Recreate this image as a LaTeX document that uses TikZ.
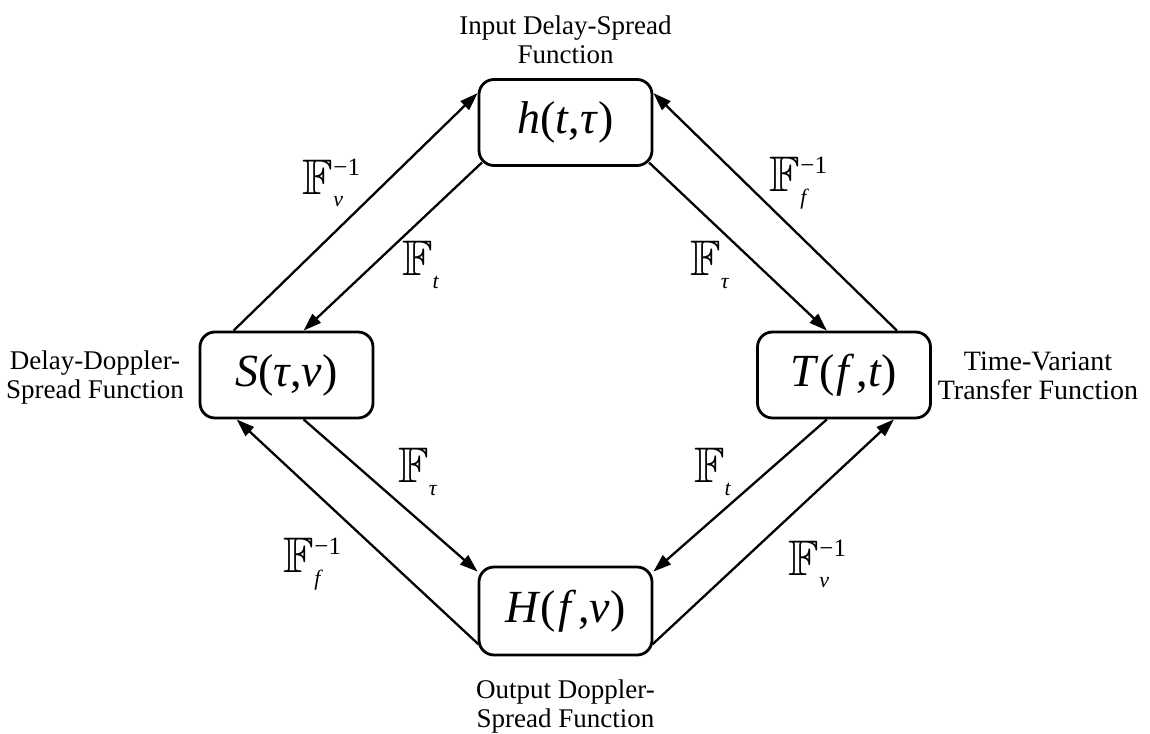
\documentclass[tikz,border=0pt]{standalone}
\usepackage{amssymb}
\usepackage{fontspec}
\setmainfont{Liberation Serif}
\usetikzlibrary{arrows.meta,calc}
\DeclareMathSizes{25}{25}{12}{9}
\newcommand{\Fop}[2]{{\fontsize{25}{27}\selectfont$\mathbb{F}_{\mbox{\fontsize{11}{11}\selectfont\itshape #1}}^{\mbox{\fontsize{12.5}{12.5}\selectfont #2}}$}}
\tikzset{
  fbox/.style={draw, line width=1.4pt, rounded corners=7.5pt, minimum width=86.5pt, minimum height=43pt, inner sep=0pt, font=\fontsize{23}{26}\selectfont},
  desc/.style={align=center, font=\fontsize{13.5}{14.5}\selectfont, inner sep=0pt},
  conn/.style={line width=1.15pt, -{Triangle[length=9pt,width=6pt]}},
  oplabel/.style={inner sep=0pt}
}
\begin{document}
\begin{tikzpicture}[x=0.5pt,y=-0.5pt]
\fill[white] (0,0) rectangle (1150,733);
\useasboundingbox (0,0) rectangle (1150,733);

\node[fbox] (h) at (565.5,122.5) {\textit{h}(\textit{t},\textit{τ})};
\node[fbox] (S) at (286.5,375) {\textit{S}(\textit{τ},\textit{ν})};
\node[fbox] (T) at (844,375) {\textit{T}(\kern1pt\textit{f}\kern1pt,\textit{t})};
\node[fbox, minimum height=44pt] (H) at (565.5,611) {\textit{H}(\kern1pt\textit{f}\kern1pt,\textit{ν})};

\node[desc] (lh) at (565.5,40) {Input Delay-Spread\\Function};
\node[desc] (lS) at (95,378) {Delay-Doppler-\\Spread Function};
\node[desc, font=\fontsize{14}{14.5}\selectfont] (lT) at (1038,376) {Time-Variant\\Transfer Function};
\node[desc] (lH) at (565.5,706) {Output Doppler-\\Spread Function};

% connectors
\draw[conn] ($(S.north west)+(35,0)$) -- ($(h.north west)+(0,15)$);
\draw[conn] ($(h.south west)+(4.4,-4.4)$) -- ($(S.north west)+(105,0)$);
\draw[conn] ($(h.south east)+(-4.4,-4.4)$) -- ($(T.north east)+(-105,0)$);
\draw[conn] ($(T.north east)+(-35,0)$) -- ($(h.north east)+(0,15)$);
\draw[conn] ($(S.south west)+(105,0)$) -- ($(H.north west)+(0,6)$);
\draw[conn] ($(H.south west)+(1,-12)$) -- ($(S.south west)+(38,0)$);
\draw[conn] ($(T.south east)+(-105,0)$) -- ($(H.north east)+(0,6)$);
\draw[conn] ($(H.south east)+(-1,-12)$) -- ($(T.south east)+(-38,0)$);

% operator labels
\node[oplabel] (o1) at (332,183) {\Fop{ν}{−1}};
\node[oplabel] (o2) at (421,265) {\Fop{t}{}};
\node[oplabel] (o3) at (710,265) {\Fop{τ}{}};
\node[oplabel] (o4) at (799,183) {\Fop{f}{−1}};
\node[oplabel] (o5) at (418,472) {\Fop{τ}{}};
\node[oplabel] (o6) at (313,564) {\Fop{f}{−1}};
\node[oplabel] (o7) at (713,472) {\Fop{t}{}};
\node[oplabel] (o8) at (818,564) {\Fop{ν}{−1}};
\end{tikzpicture}
\end{document}
